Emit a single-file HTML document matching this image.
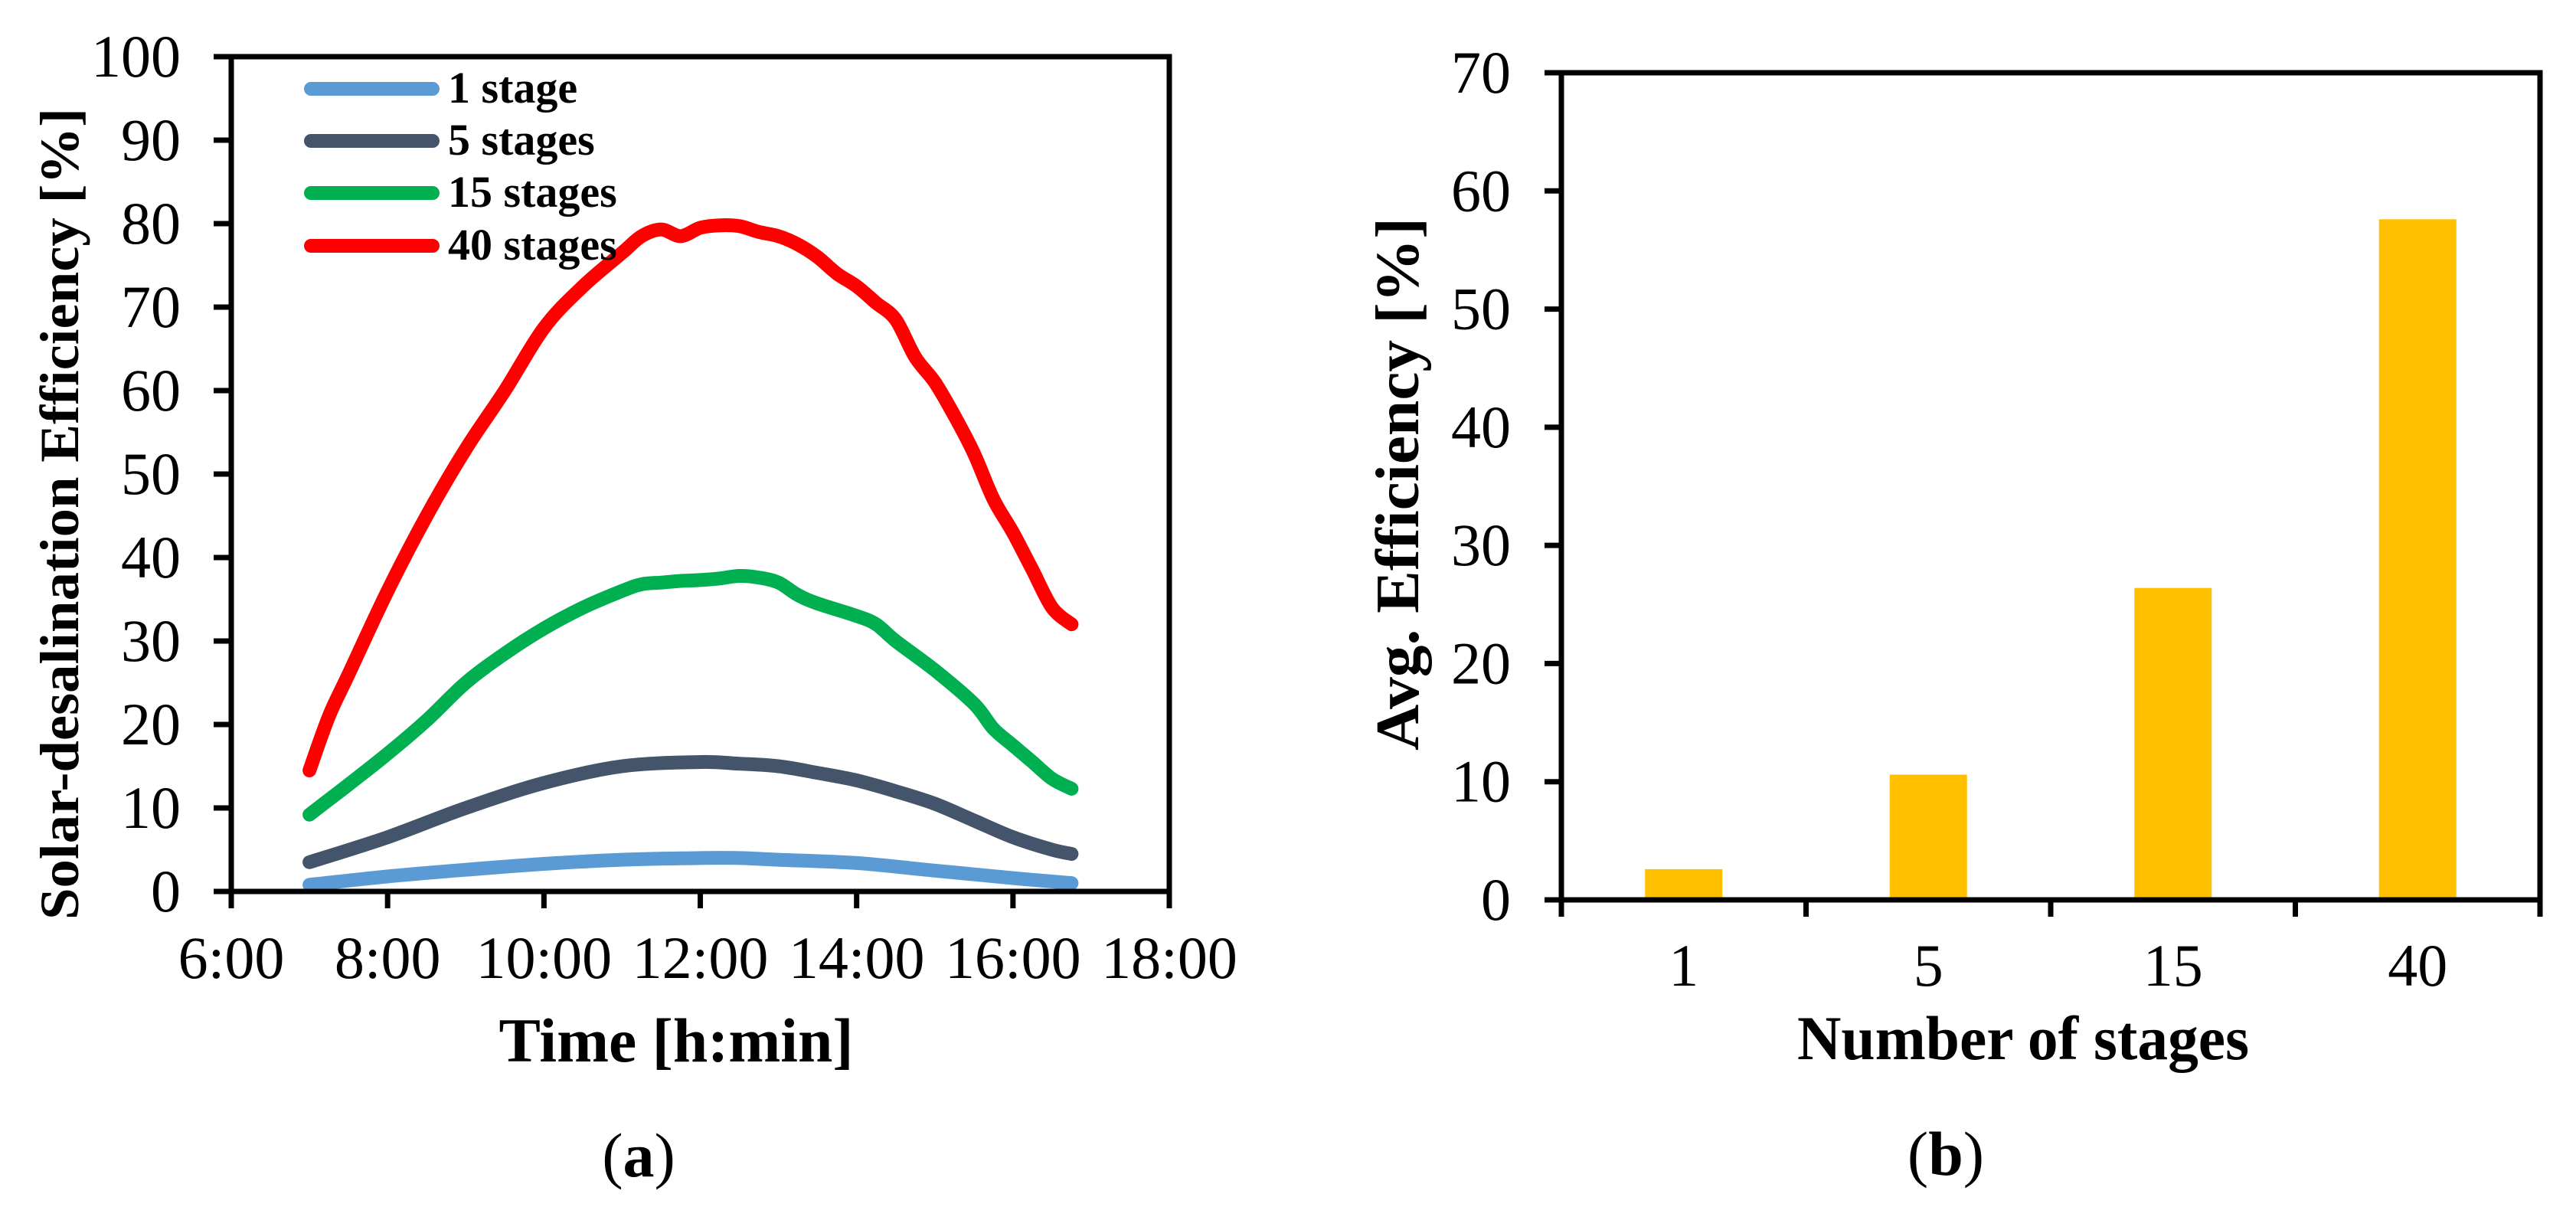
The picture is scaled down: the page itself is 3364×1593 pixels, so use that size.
<!DOCTYPE html>
<html><head><meta charset="utf-8">
<style>
html,body{margin:0;padding:0;background:#fff;}
svg{display:block;}
text{font-family:"Liberation Serif",serif;fill:#000;}
</style></head>
<body>
<svg id="svg" width="3364" height="1593" viewBox="0 0 3364 1593" xmlns="http://www.w3.org/2000/svg">
<g id="chartA"></g>
<g id="chartB"></g>
</svg>
<script>
// ---- Chart (a) data ----
const timesA = ["7:00","7:15","7:30","8:00","8:30","9:00","9:30","10:00","10:30","11:00","11:15","11:30","11:45","12:00","12:15","12:30","12:45","13:00","13:15","13:30","13:45","14:00","14:15","14:30","14:45","15:00","15:15","15:30","15:45","16:00","16:15","16:30","16:45"];
const eff40 = [14.5,21,26,36,45,53,60,67.5,72.5,76.5,78.5,79.3,78.5,79.5,79.8,79.7,79,78.5,77.5,76,74,72.5,70.5,68.5,64,61,57,52.5,47,43,38.5,34,32];
const times15 = ["7:00","7:15","7:30","8:00","8:30","9:00","9:30","10:00","10:30","11:00","11:15","11:30","11:45","12:00","12:15","12:30","12:45","13:00","13:15","13:30","14:00","14:15","14:30","15:00","15:30","15:45","16:00","16:15","16:30","16:45"];
const eff15 = [9.2,11,12.8,16.5,20.5,25,28.5,31.5,34,36,36.8,37,37.2,37.3,37.5,37.8,37.6,37,35.5,34.5,33,32,30,26.5,22.5,19.5,17.5,15.5,13.5,12.3];
const times5 = ["7:00","8:00","9:00","10:00","11:00","12:00","12:30","13:00","13:30","14:00","14:30","15:00","15:30","16:00","16:30","16:45"];
const eff5 = [3.5,6.5,10,13,15,15.5,15.3,15,14.2,13.3,12,10.5,8.5,6.5,5,4.5];
const times1 = ["7:00","8:00","9:00","10:00","11:00","12:00","12:30","13:00","14:00","15:00","16:00","16:45"];
const eff1 = [0.8,1.8,2.6,3.3,3.8,4.0,4.0,3.8,3.4,2.5,1.6,1.0];
const xTicksA = ["6:00","8:00","10:00","12:00","14:00","16:00","18:00"];
const yTicksA = [0,10,20,30,40,50,60,70,80,90,100];
// ---- Chart (b) data ----
const stageCats = ["1","5","15","40"];
const avgEff = [2.6,10.6,26.4,57.6];
const yTicksB = [0,10,20,30,40,50,60,70];

const NS="http://www.w3.org/2000/svg";
function mk(parent,tag,attrs,txt){const e=document.createElementNS(NS,tag);for(const k in attrs)e.setAttribute(k,attrs[k]);if(txt!==undefined)e.textContent=txt;parent.appendChild(e);return e;}
function hrs(t){const p=t.split(":");return +p[0]+ +p[1]/60;}
function smooth(pts){
 let d="M"+pts[0][0].toFixed(1)+","+pts[0][1].toFixed(1);
 for(let i=0;i<pts.length-1;i++){
  const p0=pts[Math.max(0,i-1)],p1=pts[i],p2=pts[i+1],p3=pts[Math.min(pts.length-1,i+2)];
  const c1=[p1[0]+(p2[0]-p0[0])/6,p1[1]+(p2[1]-p0[1])/6];
  const c2=[p2[0]-(p3[0]-p1[0])/6,p2[1]-(p3[1]-p1[1])/6];
  d+=` C${c1[0].toFixed(1)},${c1[1].toFixed(1)} ${c2[0].toFixed(1)},${c2[1].toFixed(1)} ${p2[0].toFixed(1)},${p2[1].toFixed(1)}`;
 }
 return d;
}

// ---- Chart (a) ----
const A=document.getElementById('chartA');
const aL=302,aR=1527,aT=74,aB=1164;
const xA=h=>aL+(h-6)/12*(aR-aL);
const yA=v=>aB-v/100*(aB-aT);
const series=[
 {name:"1 stage",t:times1,v:eff1,c:"#5B9BD5",id:"series-1-stage"},
 {name:"5 stages",t:times5,v:eff5,c:"#44546A",id:"series-5-stages"},
 {name:"15 stages",t:times15,v:eff15,c:"#00B050",id:"series-15-stages"},
 {name:"40 stages",t:timesA,v:eff40,c:"#FF0000",id:"series-40-stages"}];
series.forEach(s=>{
 const pts=s.t.map((t,i)=>[xA(hrs(t)),yA(s.v[i])]);
 const p=mk(A,"path",{d:smooth(pts),fill:"none",stroke:s.c,"stroke-width":18,"stroke-linecap":"round","stroke-linejoin":"round"});
 
 
});
const axA=mk(A,"path",{d:`M${aL},${aT} V${aB} H${aR} V${aT} H${aL}`,fill:"none",stroke:"#000","stroke-width":7});


yTicksA.forEach(v=>{
 const y=yA(v);
 const l=mk(A,"line",{x1:aL-23,x2:aL,y1:y,y2:y,stroke:"#000","stroke-width":7});
 
 
 const t=mk(A,"text",{x:236,y:y+26,"text-anchor":"end","font-size":78},String(v));
 
 
});
xTicksA.forEach(s=>{
 const x=xA(hrs(s));
 const l=mk(A,"line",{x1:x,x2:x,y1:aB,y2:aB+22,stroke:"#000","stroke-width":7});
 
 
 const t=mk(A,"text",{x:x,y:1277,"text-anchor":"middle","font-size":78},s);
 
 
});
const legY=[116,184,252,321];
series.forEach((s,i)=>{
 const l=mk(A,"line",{x1:406,x2:565,y1:legY[i],y2:legY[i],stroke:s.c,"stroke-width":18,"stroke-linecap":"round"});
 
 
 const t=mk(A,"text",{x:585,y:legY[i]+18,"font-size":58,"font-weight":"bold"},s.name);
 
 
});
const ytA=mk(A,"text",{x:0,y:0,"text-anchor":"middle","font-size":72,"font-weight":"bold",transform:"translate(102,671) rotate(-90)",textLength:1060,lengthAdjust:"spacingAndGlyphs"},"Solar-desalination Efficiency [%]");


const xtA=mk(A,"text",{x:883,y:1386,"text-anchor":"middle","font-size":82,"font-weight":"bold",textLength:463,lengthAdjust:"spacingAndGlyphs"},"Time [h:min]");


const capA=mk(A,"text",{x:834,y:1536,"text-anchor":"middle","font-size":82},"(");
capA.innerHTML='(<tspan font-weight="bold">a</tspan>)';



// ---- Chart (b) ----
const B=document.getElementById('chartB');
const bL=2039,bR=3317,bT=95,bB=1175;
const yB=v=>bB-v/70*(bB-bT);
const band=(bR-bL)/stageCats.length;
stageCats.forEach((c,i)=>{
 const cx=bL+band*(i+0.5);
 const r=mk(B,"rect",{x:cx-50.5,y:yB(avgEff[i]),width:101,height:bB-yB(avgEff[i]),fill:"#FFC000"});
 
 
 const t=mk(B,"text",{x:cx,y:1287,"text-anchor":"middle","font-size":78},c);
 
 
});
const axB=mk(B,"path",{d:`M${bL},${bT} V${bB} H${bR} V${bT} H${bL}`,fill:"none",stroke:"#000","stroke-width":7});


yTicksB.forEach(v=>{
 const y=yB(v);
 const l=mk(B,"line",{x1:bL-22,x2:bL,y1:y,y2:y,stroke:"#000","stroke-width":7});
 
 
 const t=mk(B,"text",{x:1973,y:y+26,"text-anchor":"end","font-size":78},String(v));
 
 
});
for(let i=0;i<=stageCats.length;i++){
 const x=bL+band*i;
 const l=mk(B,"line",{x1:x,x2:x,y1:bB,y2:bB+22,stroke:"#000","stroke-width":7});
 
 
}
const ytB=mk(B,"text",{x:0,y:0,"text-anchor":"middle","font-size":80,"font-weight":"bold",transform:"translate(1852,632) rotate(-90)",textLength:696,lengthAdjust:"spacingAndGlyphs"},"Avg. Efficiency [%]");


const xtB=mk(B,"text",{x:2642,y:1383,"text-anchor":"middle","font-size":82,"font-weight":"bold",textLength:590,lengthAdjust:"spacingAndGlyphs"},"Number of stages");


const capB=mk(B,"text",{x:2541,y:1534,"text-anchor":"middle","font-size":82},"(");
capB.innerHTML='(<tspan font-weight="bold">b</tspan>)';


</script>
</body></html>
